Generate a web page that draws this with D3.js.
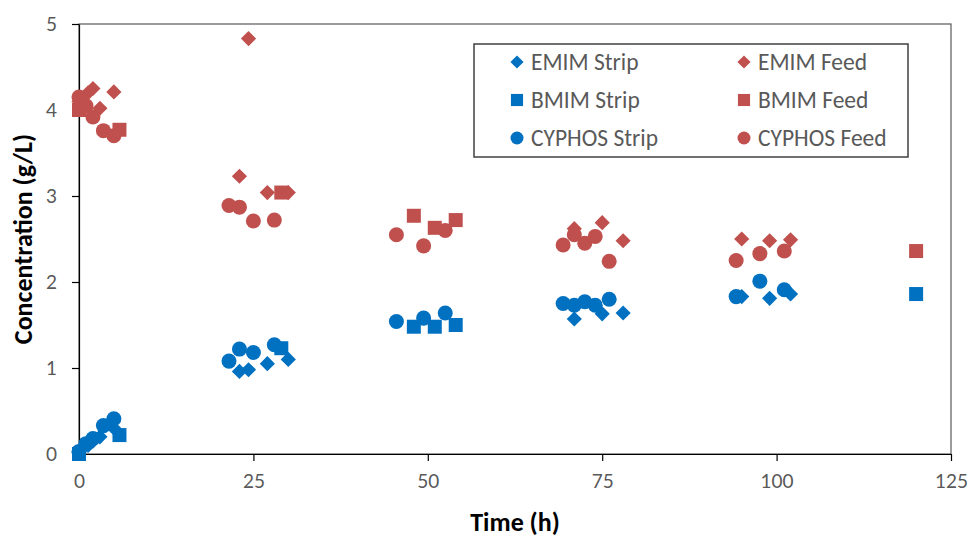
<!DOCTYPE html>
<html>
<head>
<meta charset="utf-8">
<script src="https://cdn.jsdelivr.net/npm/d3@7"></script>
<style>
  body { margin: 0; background: #fff; }
  svg { font-family: Calibri, Carlito, "Open Sans", sans-serif; }
  .axis text { fill: #595959; font-size: 19px; font-family: Lato, sans-serif; }
  .axis path, .axis line { stroke: #000; }
</style>
</head>
<body>
<div id="chart"></div>
<script>
const width = 971;
const height = 537;
const margin = { top: 24, right: 20, bottom: 83, left: 79 };

// EMIM series (diamonds)
const emimTime = [0, 1.3, 2, 3, 5, 23, 24.3, 27, 30, 71, 75, 78, 95, 99, 102];
const emimFeed = [4.1, 4.2, 4.25, 4.02, 4.21, 3.23, 4.83, 3.04, 3.04, 2.62, 2.69, 2.48, 2.5, 2.48, 2.49];
const emimStrip = [0.02, 0.1, 0.15, 0.2, 0.3, 0.96, 0.98, 1.05, 1.1, 1.57, 1.63, 1.64, 1.83, 1.81, 1.86];

// BMIM series (squares)
const bmimTime = [0, 5.8, 29, 48, 51, 54, 120];
const bmimFeed = [4.0, 3.77, 3.04, 2.77, 2.63, 2.72, 2.36];
const bmimStrip = [0.0, 0.22, 1.23, 1.48, 1.48, 1.5, 1.86];

// CYPHOS series (circles)
const cyphosTime = [0, 1, 2, 3.5, 5, 21.5, 23, 25, 28, 45.5, 49.4, 52.5, 69.4, 71, 72.5, 74, 76, 94.2, 97.6, 101.1];
const cyphosFeed = [4.15, 4.05, 3.92, 3.76, 3.7, 2.89, 2.87, 2.71, 2.72, 2.55, 2.42, 2.6, 2.43, 2.55, 2.45, 2.53, 2.24, 2.25, 2.33, 2.36];
const cyphosStrip = [0.03, 0.12, 0.18, 0.33, 0.41, 1.08, 1.22, 1.18, 1.27, 1.54, 1.58, 1.64, 1.75, 1.73, 1.77, 1.73, 1.8, 1.83, 2.01, 1.91];

const xTicks = [0, 25, 50, 75, 100, 125];
const yTicks = [0, 1, 2, 3, 4, 5];

const blue = "#0070C0";
const red = "#C0504D";

// drawing order follows the legend order (row by row)
const series = [
  { name: "EMIM Strip", time: emimTime, values: emimStrip, shape: "diamond", color: blue },
  { name: "EMIM Feed", time: emimTime, values: emimFeed, shape: "diamond", color: red },
  { name: "BMIM Strip", time: bmimTime, values: bmimStrip, shape: "square", color: blue },
  { name: "BMIM Feed", time: bmimTime, values: bmimFeed, shape: "square", color: red },
  { name: "CYPHOS Strip", time: cyphosTime, values: cyphosStrip, shape: "circle", color: blue },
  { name: "CYPHOS Feed", time: cyphosTime, values: cyphosFeed, shape: "circle", color: red }
];

// Excel style markers: diamond is a square turned 45 degrees
function markerPath(shape, scale) {
  if (shape === "diamond") return d3.symbol().type(d3.symbolSquare).size(115 * scale)();
  if (shape === "square") return d3.symbol().type(d3.symbolSquare).size(196 * scale)();
  return d3.symbol().type(d3.symbolCircle).size(177 * scale)();
}
function rot(shape) {
  return shape === "diamond" ? " rotate(45)" : "";
}

const svg = d3.select("#chart").append("svg")
  .attr("width", width)
  .attr("height", height);

const x = d3.scaleLinear()
  .domain([0, 125])
  .range([margin.left, width - margin.right]);

const y = d3.scaleLinear()
  .domain([0, 5])
  .range([height - margin.bottom, margin.top]);

// plot area border (top and right)
svg.append("rect")
  .attr("x", x(0))
  .attr("y", y(5))
  .attr("width", x(125) - x(0))
  .attr("height", y(0) - y(5))
  .attr("fill", "none")
  .attr("stroke", "#595959")
  .attr("stroke-width", 1.2);

svg.append("g")
  .attr("class", "axis")
  .attr("transform", `translate(0,${y(0)})`)
  .call(d3.axisBottom(x).tickValues(xTicks).tickSize(7).tickSizeOuter(0).tickPadding(14))
  .call(g => g.selectAll("path, line").attr("stroke-width", 1.2));

svg.append("g")
  .attr("class", "axis")
  .attr("transform", `translate(${x(0)},0)`)
  .call(d3.axisLeft(y).tickValues(yTicks).tickFormat(d3.format("d")).tickSize(7).tickSizeOuter(0).tickPadding(15))
  .call(g => g.selectAll("path, line").attr("stroke-width", 1.2));

// points
series.forEach(s => {
  const d = markerPath(s.shape, 1);
  svg.append("g")
    .selectAll("path")
    .data(s.time.map((t, i) => [t, s.values[i]]))
    .enter().append("path")
    .attr("d", d)
    .attr("transform", p => `translate(${x(p[0])},${y(p[1])})${rot(s.shape)}`)
    .attr("fill", s.color);
});

// axis titles
svg.append("text")
  .attr("x", (x(0) + x(125)) / 2)
  .attr("y", 531)
  .attr("text-anchor", "middle")
  .style("font-size", "26px")
  .style("font-weight", "bold")
  .text("Time (h)");

svg.append("text")
  .attr("transform", `translate(32,${(y(0) + y(5)) / 2}) rotate(-90)`)
  .attr("text-anchor", "middle")
  .style("font-size", "26px")
  .style("font-weight", "bold")
  .text("Concentration (g/L)");

// legend
const legend = svg.append("g");
legend.append("rect")
  .attr("x", 474)
  .attr("y", 44)
  .attr("width", 434)
  .attr("height", 113)
  .attr("fill", "#fff")
  .attr("stroke", "#404040")
  .attr("stroke-width", 1.5);

series.forEach((s, i) => {
  const col = i % 2;
  const row = Math.floor(i / 2);
  const lx = 517 + col * 227;
  const ly = 62 + row * 38;
  legend.append("path")
    .attr("d", markerPath(s.shape, 0.75))
    .attr("transform", `translate(${lx},${ly})${rot(s.shape)}`)
    .attr("fill", s.color);
  legend.append("text")
    .attr("x", lx + 14)
    .attr("y", ly)
    .attr("dy", "0.35em")
    .style("font-size", "23.5px")
    .attr("fill", "#595959")
    .text(s.name);
});
</script>
</body>
</html>
